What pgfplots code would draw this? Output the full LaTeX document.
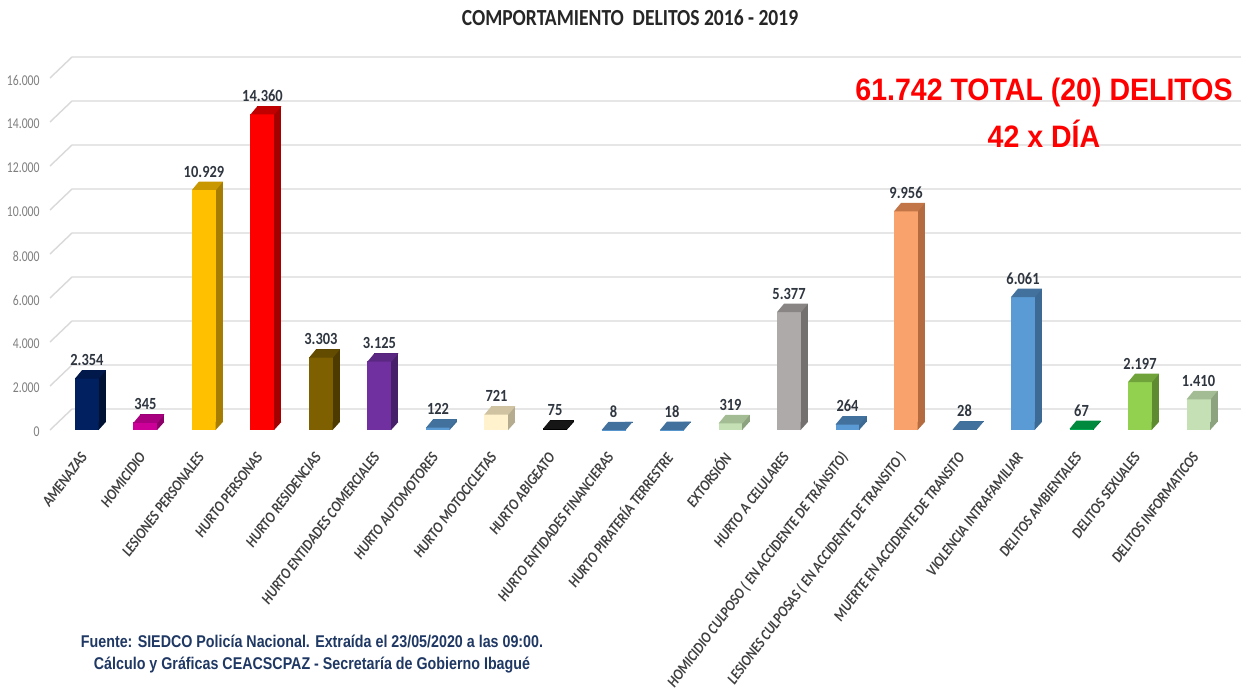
\documentclass[border=0pt]{standalone}
\usepackage{fontspec}
\usepackage{pgfplots}
\pgfplotsset{compat=1.18}
\setmainfont{Carlito}[FakeStretch=0.85]
\newfontfamily\tickf{Carlito}[FakeStretch=0.78]
\newfontfamily\catf{Carlito}[FakeStretch=0.85]
\newfontfamily\arialf{Liberation Sans}[FakeStretch=0.92]
\newfontfamily\footf{Liberation Sans}[FakeStretch=0.84]
\newcommand\cl[1]{{\catf\bfseries\itshape\fontsize{7.8}{8}\selectfont #1}}

\definecolor{gridc}{HTML}{D9D9D9}
\definecolor{tickc}{HTML}{7F7F7F}
\definecolor{valc}{HTML}{2F3640}
\definecolor{catc}{HTML}{404040}
\definecolor{titc}{HTML}{262626}
\definecolor{footc}{HTML}{1F3864}
% bar colours: front / side / top
\definecolor{navyF}{HTML}{002060}\definecolor{navyS}{HTML}{001233}\definecolor{navyT}{HTML}{00184A}
\definecolor{magF}{HTML}{CC0099}\definecolor{magS}{HTML}{8A0068}\definecolor{magT}{HTML}{A8007E}
\definecolor{yelF}{HTML}{FFC000}\definecolor{yelS}{HTML}{A67D00}\definecolor{yelT}{HTML}{C99700}
\definecolor{redF}{HTML}{FF0000}\definecolor{redS}{HTML}{A30000}\definecolor{redT}{HTML}{C00000}
\definecolor{brnF}{HTML}{7F6000}\definecolor{brnS}{HTML}{4D3A00}\definecolor{brnT}{HTML}{634B00}
\definecolor{purF}{HTML}{7030A0}\definecolor{purS}{HTML}{47206A}\definecolor{purT}{HTML}{5A2782}
\definecolor{bluF}{HTML}{5B9BD5}\definecolor{bluS}{HTML}{3C6A94}\definecolor{bluT}{HTML}{41719C}
\definecolor{creF}{HTML}{FFF2CC}\definecolor{creS}{HTML}{B5AB8F}\definecolor{creT}{HTML}{CFC3A2}
\definecolor{blkF}{HTML}{000000}\definecolor{blkS}{HTML}{000000}\definecolor{blkT}{HTML}{161616}
\definecolor{lgrF}{HTML}{C5E0B4}\definecolor{lgrS}{HTML}{8DA27F}\definecolor{lgrT}{HTML}{A4BC94}
\definecolor{gryF}{HTML}{AEAAAA}\definecolor{gryS}{HTML}{757070}\definecolor{gryT}{HTML}{8A8585}
\definecolor{orgF}{HTML}{F9A26C}\definecolor{orgS}{HTML}{B36B3F}\definecolor{orgT}{HTML}{C27547}
\definecolor{grnF}{HTML}{00A84F}\definecolor{grnS}{HTML}{006B30}\definecolor{grnT}{HTML}{008A3E}
\definecolor{limF}{HTML}{92D050}\definecolor{limS}{HTML}{5E8A30}\definecolor{limT}{HTML}{70A33A}

% 3D faces (1px = 0.5pt): front width 12pt, depth dx=3.5pt, dy=4pt
\pgfdeclareplotmark{topface}{%
  \pgfpathmoveto{\pgfqpoint{-6pt}{-0.2pt}}%
  \pgfpathlineto{\pgfqpoint{6pt}{-0.2pt}}%
  \pgfpathlineto{\pgfqpoint{9.5pt}{4pt}}%
  \pgfpathlineto{\pgfqpoint{-2.5pt}{4pt}}%
  \pgfpathclose\pgfusepathqfill}
\pgfdeclareplotmark{basetri}{%
  \pgfpathmoveto{\pgfqpoint{5.8pt}{0pt}}%
  \pgfpathlineto{\pgfqpoint{9.5pt}{4.1pt}}%
  \pgfpathlineto{\pgfqpoint{5.8pt}{4.1pt}}%
  \pgfpathclose\pgfusepathqfill}

\newcommand\tbar[5]{%
  \addplot[only marks, mark=basetri, color=#4, forget plot] coordinates {(#1,0)};
  \addplot[ybar, bar width=12pt, bar shift=3.5pt, yshift=4pt, fill=#4, draw=none, forget plot] coordinates {(#1,#2)};
  \addplot[ybar, bar width=12pt, bar shift=0pt, fill=#3, draw=none, forget plot,
    nodes near coords, nodes near coords align={vertical}] coordinates {(#1,#2)};
  \addplot[only marks, mark=topface, color=#5, forget plot] coordinates {(#1,#2)};
}

\begin{document}
\begin{tikzpicture}
\path[fill=white, use as bounding box] (0,0) rectangle (620.5pt,346pt);
\begin{axis}[
  scale only axis,
  width=584.5pt, height=176pt,
  at={(25pt,131pt)}, anchor=south west,
  xmin=-0.632, xmax=19.35, ymin=0, ymax=16000,
  clip=false,
  axis line style={draw=none}, tick style={draw=none},
  scaled y ticks=false,
  /pgf/number format/.cd, 1000 sep={.}, assume math mode=true, /pgfplots/.cd,
  ytick={0,2000,...,16000},
  yticklabel style={font=\tickf\fontsize{7.5}{8}\selectfont, text=tickc, inner sep=0pt, xshift=-5pt, yshift=-1pt},
  xtick={0,...,19},
  xticklabels={\cl{AMENAZAS}, \cl{HOMICIDIO}, \cl{LESIONES PERSONALES}, \cl{HURTO PERSONAS}, \cl{HURTO RESIDENCIAS},
    \cl{HURTO ENTIDADES COMERCIALES}, \cl{HURTO AUTOMOTORES}, \cl{HURTO MOTOCICLETAS}, \cl{HURTO ABIGEATO},
    \cl{HURTO ENTIDADES FINANCIERAS}, \cl{HURTO PIRATERÍA TERRESTRE}, \cl{EXTORSIÓN}, \cl{HURTO A CELULARES},
    \cl{HOMICIDIO CULPOSO ( EN ACCIDENTE DE TRÁNSITO)}, \cl{LESIONES CULPOSAS ( EN ACCIDENTE DE TRANSITO )},
    \cl{MUERTE EN ACCIDENTE DE TRANSITO}, \cl{VIOLENCIA INTRAFAMILIAR}, \cl{DELITOS AMBIENTALES},
    \cl{DELITOS SEXUALES}, \cl{DELITOS INFORMATICOS}},
  xticklabel style={xshift=-1.5pt, yshift=-12pt, rotate=53, anchor=east, inner sep=0pt,
    font=\catf\bfseries\itshape\fontsize{7.8}{8}\selectfont, text=catc},
  every node near coord/.append style={font=\bfseries\fontsize{8.5}{9}\selectfont, text=valc,
    anchor=south, inner sep=0pt, yshift=6pt},
]
\pgfplotsinvokeforeach{0,2000,4000,6000,8000,10000,12000,14000,16000}{
  \draw[gridc, line width=0.7pt] (axis cs:-0.632,#1) -- ++(11pt,10.5pt) -- ++(584.5pt,0pt);
}
\tbar{0}{2354}{navyF}{navyS}{navyT}
\tbar{1}{345}{magF}{magS}{magT}
\tbar{2}{10929}{yelF}{yelS}{yelT}
\tbar{3}{14360}{redF}{redS}{redT}
\tbar{4}{3303}{brnF}{brnS}{brnT}
\tbar{5}{3125}{purF}{purS}{purT}
\tbar{6}{122}{bluF}{bluS}{bluT}
\tbar{7}{721}{creF}{creS}{creT}
\tbar{8}{75}{blkF}{blkS}{blkT}
\tbar{9}{8}{bluF}{bluS}{bluT}
\tbar{10}{18}{bluF}{bluS}{bluT}
\tbar{11}{319}{lgrF}{lgrS}{lgrT}
\tbar{12}{5377}{gryF}{gryS}{gryT}
\tbar{13}{264}{bluF}{bluS}{bluT}
\tbar{14}{9956}{orgF}{orgS}{orgT}
\tbar{15}{28}{bluF}{bluS}{bluT}
\tbar{16}{6061}{bluF}{bluS}{bluT}
\tbar{17}{67}{grnF}{grnS}{grnT}
\tbar{18}{2197}{limF}{limS}{limT}
\tbar{19}{1410}{lgrF}{lgrS}{lgrT}
\end{axis}
\node[font=\bfseries\fontsize{11.5}{12}\selectfont, text=titc] at (315pt,337pt) {COMPORTAMIENTO\ \ DELITOS 2016 - 2019};
\node[font=\arialf\bfseries\fontsize{15.5}{16}\selectfont, text=red] at (522pt,300pt) {61.742 TOTAL (20) DELITOS};
\node[font=\arialf\bfseries\fontsize{15.5}{16}\selectfont, text=red] at (522pt,279pt) {42 x DÍA};
\node[font=\footf\bfseries\fontsize{8.5}{9}\selectfont, text=footc] at (156pt,25.5pt) {Fuente: SIEDCO Policía Nacional. Extraída el 23/05/2020 a las 09:00.};
\node[font=\footf\bfseries\fontsize{8.5}{9}\selectfont, text=footc] at (156pt,13.5pt) {Cálculo y Gráficas CEACSCPAZ - Secretaría de Gobierno Ibagué};
\end{tikzpicture}
\end{document}
